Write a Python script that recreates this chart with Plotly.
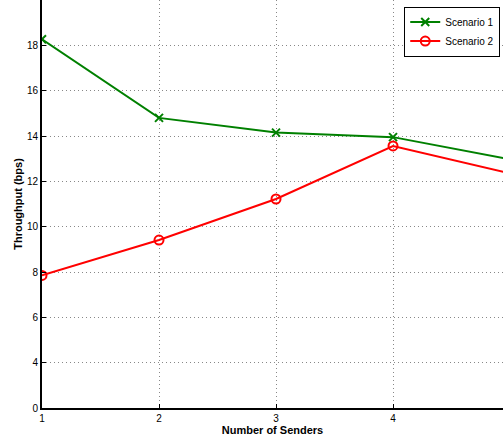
import plotly.graph_objects as go

senders = [1, 2, 3, 4, 5]
scenario1 = [18.27, 14.8, 14.15, 13.95, 12.97]
scenario2 = [7.85, 9.41, 11.22, 13.56, 12.35]
ytick_vals = [2, 4, 6, 8, 10, 12, 14, 16, 18]
ytick_text = ["0", "4", "6", "8", "10", "12", "14", "16", "18"]
xtick_vals = [1, 2, 3, 4]

fig = go.Figure()
fig.add_trace(go.Scatter(
    x=senders, y=scenario1, name="Scenario 1", mode="lines+markers",
    line=dict(color="#008000", width=2),
    marker=dict(symbol="x-thin-open", size=8, line=dict(color="#008000", width=2), color="#008000"),
))
fig.add_trace(go.Scatter(
    x=senders, y=scenario2, name="Scenario 2", mode="lines+markers",
    line=dict(color="#ff0000", width=2),
    marker=dict(symbol="circle-open", size=9, line=dict(color="#ff0000", width=2), color="#ff0000"),
))

font = "Liberation Sans, Arial, Helvetica, sans-serif"
fig.update_layout(
    width=503, height=440,
    margin=dict(l=42, r=0, t=0, b=32, autoexpand=False),
    paper_bgcolor="white", plot_bgcolor="white",
    font=dict(family=font, size=10, color="black"),
    showlegend=True,
    legend=dict(x=0.994, y=0.984, xanchor="right", yanchor="top",
                bgcolor="white", bordercolor="black", borderwidth=1,
                font=dict(size=10), tracegroupgap=0, itemwidth=30),
    xaxis=dict(range=[1, 4.94], tickvals=xtick_vals, showline=True, linecolor="black", linewidth=2,
               ticks="inside", ticklen=4, tickcolor="black", showgrid=True, gridcolor="#888888",
               griddash="1px,3px", gridwidth=1, zeroline=False, automargin=False,
               title=dict(text="<b>Number of Senders</b>", font=dict(size=11), standoff=2)),
    yaxis=dict(range=[2, 20], tickvals=ytick_vals, ticktext=ytick_text, showline=True, linecolor="black",
               linewidth=2, ticks="inside", ticklen=4, tickcolor="black", showgrid=True,
               gridcolor="#888888", griddash="1px,3px", gridwidth=1, zeroline=False, automargin=False,
               title=dict(text="<b>Throughput (bps)</b>", font=dict(size=11), standoff=2)),
)
fig.write_html("out.html", config={"displayModeBar": False})
with open("out.html", "r", encoding="utf-8") as f:
    html = f.read()
html = html.replace("<head>", "<head><style>html,body{margin:0;padding:0;overflow:hidden}</style>", 1)
with open("out.html", "w", encoding="utf-8") as f:
    f.write(html)
